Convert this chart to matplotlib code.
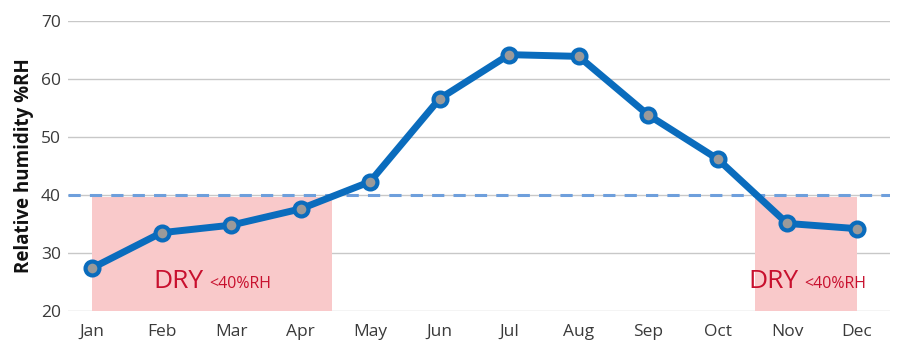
import matplotlib
matplotlib.use('Agg')
import matplotlib.pyplot as plt

# monthly relative humidity readings
months = ['Jan', 'Feb', 'Mar', 'Apr', 'May', 'Jun', 'Jul', 'Aug', 'Sep', 'Oct', 'Nov', 'Dec']
humidity = [27.4, 33.5, 34.8, 37.6, 42.3, 56.6, 64.2, 63.9, 53.8, 46.2, 35.1, 34.2]
threshold = 40
dry_spans = [(0, 3.45), (9.54, 11)]
dry_label_x = [0.88, 9.44]
yticks = [20, 30, 40, 50, 60, 70]

plt.rcParams['font.family'] = ['Open Sans', 'DejaVu Sans']

fig = plt.figure(figsize=(9, 3.56), dpi=100)
ax = fig.add_axes([0.0756, 0.1264, 0.9134, 0.8146])

x = list(range(len(months)))

# dry zones
for (x0, x1), lx in zip(dry_spans, dry_label_x):
    ax.axvspan(x0, x1, ymin=0, ymax=(threshold - 20) / 50 - 0.006, color='#f9c9ca', lw=0, zorder=1)
    ax.text(lx, 24.0, 'DRY', color='#c8102e', fontsize=19, ha='left', va='baseline', zorder=2)
    ax.text(lx + 0.8, 24.0, '<40%RH', color='#c8102e', fontsize=11.5, ha='left', va='baseline', zorder=2)

ax.axhline(threshold, color='#6e9fdc', lw=2.2, ls=(0, (4, 3)), zorder=3)

ax.plot(x, humidity, color='#0a6cbd', lw=5, marker='o', markersize=10,
        markerfacecolor='#9a9a9a', markeredgecolor='#0a6cbd', markeredgewidth=3, zorder=4)

ax.set_xlim(-0.345, 11.48)
ax.set_ylim(20, 70)
ax.set_yticks(yticks)
ax.set_xticks(x)
ax.set_xticklabels(months)
ax.yaxis.grid(True, color='#c8c8c8', lw=1)
ax.set_axisbelow(True)
for s in ax.spines.values():
    s.set_visible(False)
ax.tick_params(axis='both', length=0, labelsize=12.5, colors='#3a3a3a')
ax.tick_params(axis='x', pad=9)
ax.tick_params(axis='y', pad=5)
ax.set_ylabel('Relative humidity %RH', fontsize=13.5, fontweight='bold', color='#111111', labelpad=5)

fig.savefig('out.png', dpi=100)
